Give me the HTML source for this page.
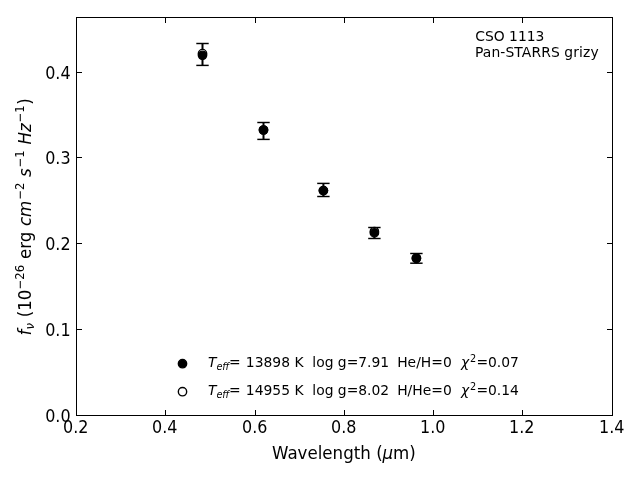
<!DOCTYPE html>
<html lang="en">
<head>
<meta charset="utf-8">
<title>CSO 1113 Pan-STARRS grizy</title>
<style>
html,body{margin:0;padding:0;background:#fff;}
body{width:640px;height:480px;overflow:hidden;}
svg{display:block;}
text{font-family:'DejaVu Sans','Liberation Sans',sans-serif;fill:#000;}
.t12{font-size:16.667px;}
.t10{font-size:13.889px;}
.s12{font-size:11.667px;}
.s10{font-size:9.722px;}
.i{font-style:oblique;}
.ax{stroke:#000;stroke-width:1;fill:none;shape-rendering:crispEdges;}
.eb{stroke:#000;stroke-width:2;fill:none;}
.cap{stroke:#000;stroke-width:1.45;fill:none;}
.mf{fill:#000;stroke:#000;stroke-width:1.389;}
.mo{fill:#fff;stroke:#000;stroke-width:1.389;}
</style>
</head>
<body>
<svg width="640" height="480" viewBox="0 0 640 480">
<rect x="0" y="0" width="640" height="480" fill="#fff"/>
<rect class="ax" x="76.5" y="17.5" width="536.0" height="398.0"/>
<g class="ax">
<line x1="165.5" y1="415.5" x2="165.5" y2="410.0"/><line x1="165.5" y1="17.5" x2="165.5" y2="23.0"/>
<line x1="255.5" y1="415.5" x2="255.5" y2="410.0"/><line x1="255.5" y1="17.5" x2="255.5" y2="23.0"/>
<line x1="344.5" y1="415.5" x2="344.5" y2="410.0"/><line x1="344.5" y1="17.5" x2="344.5" y2="23.0"/>
<line x1="433.5" y1="415.5" x2="433.5" y2="410.0"/><line x1="433.5" y1="17.5" x2="433.5" y2="23.0"/>
<line x1="522.5" y1="415.5" x2="522.5" y2="410.0"/><line x1="522.5" y1="17.5" x2="522.5" y2="23.0"/>
<line x1="76.5" y1="329.5" x2="82.0" y2="329.5"/><line x1="612.5" y1="329.5" x2="607.0" y2="329.5"/>
<line x1="76.5" y1="243.5" x2="82.0" y2="243.5"/><line x1="612.5" y1="243.5" x2="607.0" y2="243.5"/>
<line x1="76.5" y1="157.5" x2="82.0" y2="157.5"/><line x1="612.5" y1="157.5" x2="607.0" y2="157.5"/>
<line x1="76.5" y1="72.5" x2="82.0" y2="72.5"/><line x1="612.5" y1="72.5" x2="607.0" y2="72.5"/>
</g>
<g class="t12" text-anchor="middle">
<text transform="translate(75.70 432.7) scale(0.96 1.08)">0.2</text>
<text transform="translate(164.70 432.7) scale(0.96 1.08)">0.4</text>
<text transform="translate(254.70 432.7) scale(0.96 1.08)">0.6</text>
<text transform="translate(343.70 432.7) scale(0.96 1.08)">0.8</text>
<text transform="translate(432.70 432.7) scale(0.96 1.08)">1.0</text>
<text transform="translate(521.70 432.7) scale(0.96 1.08)">1.2</text>
<text transform="translate(611.70 432.7) scale(0.96 1.08)">1.4</text>
</g>
<g class="t12" text-anchor="end">
<text transform="translate(70.6 421.85) scale(0.96 1.08)">0.0</text>
<text transform="translate(70.6 335.85) scale(0.96 1.08)">0.1</text>
<text transform="translate(70.6 249.85) scale(0.96 1.08)">0.2</text>
<text transform="translate(70.6 163.85) scale(0.96 1.08)">0.3</text>
<text transform="translate(70.6 78.85) scale(0.96 1.08)">0.4</text>
</g>
<g>
<line class="eb" x1="202.5" y1="43.5" x2="202.5" y2="65.4"/><line class="cap" x1="196.3" y1="43.5" x2="208.7" y2="43.5"/><line class="cap" x1="196.3" y1="65.4" x2="208.7" y2="65.4"/>
<line class="eb" x1="263.5" y1="122.5" x2="263.5" y2="139.4"/><line class="cap" x1="257.3" y1="122.5" x2="269.7" y2="122.5"/><line class="cap" x1="257.3" y1="139.4" x2="269.7" y2="139.4"/>
<line class="eb" x1="323.4" y1="183.4" x2="323.4" y2="196.5"/><line class="cap" x1="317.2" y1="183.4" x2="329.6" y2="183.4"/><line class="cap" x1="317.2" y1="196.5" x2="329.6" y2="196.5"/>
<line class="eb" x1="374.4" y1="227.5" x2="374.4" y2="238.5"/><line class="cap" x1="368.2" y1="227.5" x2="380.6" y2="227.5"/><line class="cap" x1="368.2" y1="238.5" x2="380.6" y2="238.5"/>
<line class="eb" x1="416.4" y1="253.5" x2="416.4" y2="263.2"/><line class="cap" x1="410.2" y1="253.5" x2="422.6" y2="253.5"/><line class="cap" x1="410.2" y1="263.2" x2="422.6" y2="263.2"/>
<circle class="mo" cx="202.5" cy="53.6" r="4.17"/><circle class="mf" cx="202.5" cy="55.3" r="4.17"/>
<circle class="mo" cx="263.5" cy="130.0" r="4.17"/><circle class="mf" cx="263.5" cy="130.0" r="4.17"/>
<circle class="mo" cx="323.4" cy="190.6" r="4.17"/><circle class="mf" cx="323.4" cy="190.6" r="4.17"/>
<circle class="mo" cx="374.4" cy="231.5" r="4.17"/><circle class="mf" cx="374.4" cy="232.9" r="4.17"/>
<circle class="mo" cx="416.4" cy="258.3" r="4.17"/><circle class="mf" cx="416.4" cy="258.3" r="4.17"/>
</g>
<circle class="mf" cx="182.5" cy="363.7" r="4.17"/>
<circle class="mo" cx="182.5" cy="391.7" r="4.17"/>
<text class="t10" xml:space="preserve"><tspan class="i" x="208.10" y="367.00">T</tspan><tspan class="i s10" x="216.40" y="370.40">eff</tspan><tspan x="229.10" y="367.00">=</tspan><tspan x="241.43" y="367.00"> 13898 K  log g=7.91  </tspan><tspan x="397.20" y="367.00">He/H=0  </tspan><tspan class="i" x="461.10" y="367.00">χ</tspan><tspan class="s10" x="469.95" y="361.68">2</tspan><tspan x="476.40" y="367.00">=0.07</tspan></text>
<text class="t10" xml:space="preserve"><tspan class="i" x="208.10" y="395.00">T</tspan><tspan class="i s10" x="216.40" y="398.40">eff</tspan><tspan x="229.10" y="395.00">=</tspan><tspan x="241.43" y="395.00"> 14955 K  log g=8.02  </tspan><tspan x="397.20" y="395.00">H/He=0  </tspan><tspan class="i" x="461.10" y="395.00">χ</tspan><tspan class="s10" x="469.95" y="389.68">2</tspan><tspan x="476.40" y="395.00">=0.14</tspan></text>
<text class="t10" x="475.3" y="41.4">CSO 1113</text>
<text class="t10" x="475.0" y="57.0" letter-spacing="0.1">Pan-STARRS grizy</text>
<g transform="translate(272.0 458.6) scale(1 1.07)"><text class="t12" xml:space="preserve"><tspan x="0.00" y="0.00">Wavelength</tspan><tspan x="98.90" y="0.00"> (</tspan><tspan class="i" x="110.50" y="0.00">μ</tspan><tspan x="121.10" y="0.00">m)</tspan></text></g>
<g transform="translate(30.80 335.40) rotate(-90) scale(1 1.075)"><text class="t12" xml:space="preserve"><tspan class="i" x="0.00" y="0.00">f</tspan><tspan class="i s12" x="5.87" y="2.55">ν</tspan><tspan x="12.84" y="0.00"> (10</tspan><tspan class="s12" x="46.00" y="-5.93">−26</tspan><tspan x="71.08" y="0.00"> erg </tspan><tspan class="i" x="109.37" y="0.00">cm</tspan><tspan class="s12" x="135.54" y="-5.93">−2</tspan><tspan x="153.19" y="0.00"> </tspan><tspan class="i" x="158.49" y="0.00">s</tspan><tspan class="s12" x="167.95" y="-5.93">−1</tspan><tspan x="185.60" y="0.00"> </tspan><tspan class="i" x="190.90" y="0.00">Hz</tspan><tspan class="s12" x="212.93" y="-5.93">−1</tspan><tspan x="230.58" y="0.00">)</tspan></text></g>
</svg>
</body>
</html>
